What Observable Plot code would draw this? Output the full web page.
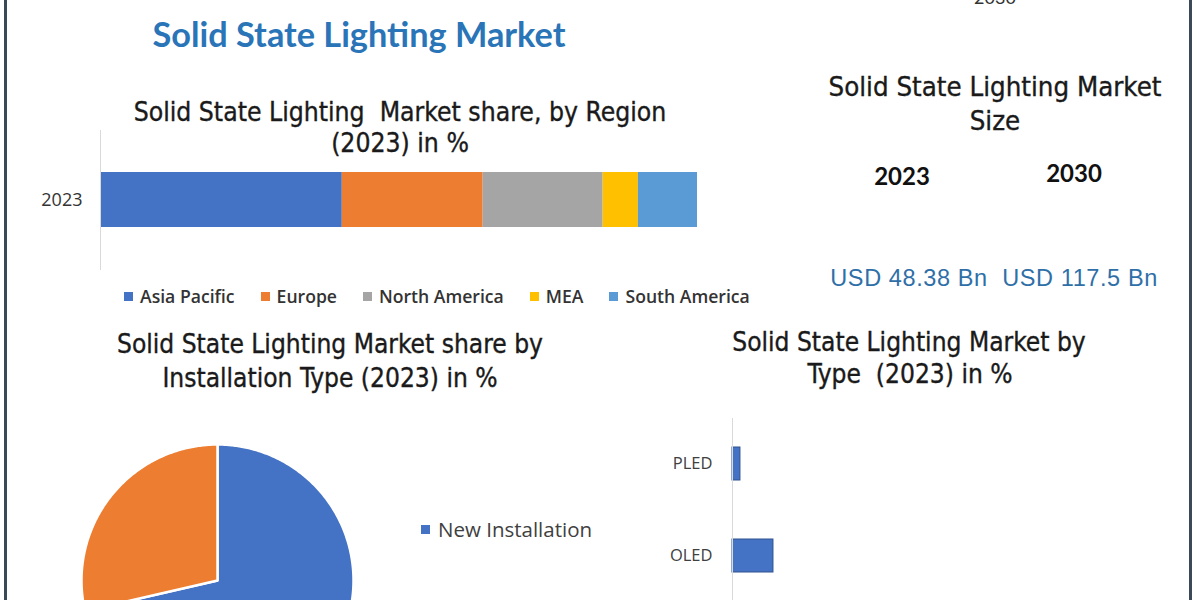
<!DOCTYPE html>
<html><head><meta charset="utf-8">
<script src="https://cdn.jsdelivr.net/npm/d3@7"></script>
<script src="https://cdn.jsdelivr.net/npm/@observablehq/plot@0.6"></script>
<style>
html,body{margin:0;padding:0;background:#fff;}
#page{position:relative;width:1200px;height:600px;overflow:hidden;background:#fff;}
.t{position:absolute;white-space:nowrap;transform:translate(-50%,-50%);line-height:1;}
.narrow{font-family:"DejaVu Sans Condensed","Liberation Sans Narrow",sans-serif;color:#1a1a1a;font-size:26.3px;-webkit-text-stroke:0.35px #1a1a1a;}
.border{position:absolute;top:0;width:3px;height:600px;background:#3b4956;}
</style></head><body><div id="page"></div><script>
// ---- data ----
const regionYear = ["2023"];
const regions = ["Asia Pacific", "Europe", "North America", "MEA", "South America"];
const regionShare = [40.5, 23.6, 20.1, 5.9, 9.9];
const regionColors = ["#4472C4", "#ED7D31", "#A5A5A5", "#FFC000", "#5B9BD5"];
const installTypes = ["New Installation", "Retrofit"];
const installShare = [71.4, 28.6];
const installColors = ["#4472C4", "#ED7D31"];
const lightTypes = ["PLED", "OLED"];
const lightShare = [1.9, 9.8];
const sizeYears = ["2023", "2030"];
const sizeValues = ["USD 48.38 Bn", "USD 117.5 Bn"];

const page = document.getElementById("page");
function addText(txt, x, y, cls, style) {
  const d = document.createElement("div");
  d.className = "t " + (cls || "");
  d.textContent = txt;
  d.style.left = x + "px"; d.style.top = y + "px";
  Object.assign(d.style, style || {});
  page.appendChild(d);
  return d;
}
function place(el, x, y) {
  el.style.position = "absolute"; el.style.left = x + "px"; el.style.top = y + "px";
  page.appendChild(el);
}

// borders
["4px", "1189px"].forEach(l => { const b = document.createElement("div"); b.className = "border"; b.style.left = l; page.appendChild(b); });

// main title
addText("Solid State Lighting Market", 359, 34, "", {fontFamily: "Lato", fontWeight: "700", fontSize: "34.3px", color: "#2A74B8"});
// cut-off year at top (as in the reference)
addText(sizeYears[1], 995, -3, "", {fontFamily: "Lato", fontSize: "18px", color: "#333"});

// ---- region stacked bar ----
addText("Solid State Lighting  Market share, by Region", 400, 112, "narrow", {whiteSpace: "pre"});
addText("(2023) in %", 400, 143, "narrow");
const regionData = regions.map((r, i) => ({year: regionYear[0], region: r, share: regionShare[i]}));
const bar1 = Plot.plot({
  width: 760, height: 140, marginLeft: 100, marginRight: 63, marginTop: 0, marginBottom: 0,
  style: {fontFamily: "Open Sans", fontSize: "18px", color: "#333", background: "transparent", overflow: "visible"},
  x: {domain: [0, 100], axis: null},
  y: {domain: regionYear, label: null, tickSize: 0, tickPadding: 18, padding: 0.4286},
  color: {domain: regions, range: regionColors},
  marks: [
    Plot.barX(regionData, Plot.stackX({x: "share", y: "year", fill: "region"})),
    Plot.ruleX([0], {stroke: "#d9d9d9"})
  ]
});
place(bar1, 0, 130);
// legend
const leg = document.createElement("div");
leg.style.cssText = "display:flex;gap:26px;font-family:'Open Sans';font-size:17.6px;font-weight:600;color:#333;align-items:center;";
regions.forEach((r, i) => {
  const it = document.createElement("div");
  it.style.cssText = "display:flex;align-items:center;gap:7px;";
  const sw = document.createElement("span");
  sw.style.cssText = "display:inline-block;width:9px;height:9px;background:" + regionColors[i];
  const tx = document.createElement("span"); tx.textContent = r;
  it.append(sw, tx); leg.appendChild(it);
});
place(leg, 124, 284);

// ---- market size panel ----
addText("Solid State Lighting Market", 995, 87, "narrow", {fontSize: "27.4px"});
addText("Size", 995, 121, "narrow", {fontSize: "27.4px"});
addText(sizeYears[0], 902, 176, "", {fontFamily: "Lato", fontWeight: "700", fontSize: "24px", color: "#111"});
addText(sizeYears[1], 1074, 173, "", {fontFamily: "Lato", fontWeight: "700", fontSize: "24px", color: "#111"});
addText(sizeValues[0], 909, 279, "", {fontFamily: "Liberation Sans", fontSize: "23.5px", color: "#2F6FA8", letterSpacing: "0.6px"});
addText(sizeValues[1], 1080, 279, "", {fontFamily: "Liberation Sans", fontSize: "23.5px", color: "#2F6FA8", letterSpacing: "0.6px"});

// ---- installation pie ----
addText("Solid State Lighting Market share by", 330, 344, "narrow", {fontSize: "26.1px"});
addText("Installation Type (2023) in %", 330, 378, "narrow", {fontSize: "26.1px"});
const arcs = d3.pie().sort(null)(installShare);
const pieData = [];
arcs.forEach((a, i) => {
  pieData.push({type: installTypes[i], px: 0, py: 0});
  const n = Math.ceil((a.endAngle - a.startAngle) / 0.01);
  for (let k = 0; k <= n; k++) {
    const t = a.startAngle + (a.endAngle - a.startAngle) * k / n;
    pieData.push({type: installTypes[i], px: Math.sin(t), py: Math.cos(t)});
  }
});
const pie = Plot.plot({
  width: 272, height: 272, margin: 0,
  style: {background: "transparent", overflow: "visible"},
  x: {domain: [-1, 1], axis: null}, y: {domain: [-1, 1], axis: null},
  color: {domain: installTypes, range: installColors},
  marks: [Plot.line(pieData, {x: "px", y: "py", z: "type", fill: "type", stroke: "white", strokeWidth: 2.5, curve: "linear-closed"})]
});
place(pie, 81, 444);
// legend (only the first entry lies inside the visible frame)
installTypes.slice(0, 1).forEach((t, i) => {
  const it = document.createElement("div");
  it.style.cssText = "display:flex;align-items:center;gap:8px;font-family:'Open Sans';font-size:20.5px;color:#404040;";
  const sw = document.createElement("span");
  sw.style.cssText = "display:inline-block;width:9px;height:9px;background:" + installColors[i];
  const tx = document.createElement("span"); tx.textContent = t;
  it.append(sw, tx);
  place(it, 421, 515);
});

// ---- type bar chart ----
addText("Solid State Lighting Market by", 909, 342, "narrow", {fontSize: "26.1px"});
addText("Type  (2023) in %", 910, 374, "narrow", {whiteSpace: "pre", fontSize: "26.1px"});
const typeData = lightTypes.map((t, i) => ({type: t, share: lightShare[i]}));
const bar2 = Plot.plot({
  width: 560, height: 184, marginLeft: 132, marginRight: 10, marginTop: 0, marginBottom: 0,
  style: {fontFamily: "Open Sans", fontSize: "16.5px", color: "#404040", background: "transparent", overflow: "visible"},
  x: {domain: [0, 100], axis: null},
  y: {domain: lightTypes, label: null, tickSize: 0, tickPadding: 20, paddingInner: 0.64, paddingOuter: 0.31},
  marks: [
    Plot.barX(typeData, {x: "share", y: "type", fill: "#4472C4", stroke: "#2F528F", strokeWidth: 1}),
    Plot.ruleX([0], {stroke: "#d9d9d9"})
  ]
});
place(bar2, 600, 418);
</script></body></html>
